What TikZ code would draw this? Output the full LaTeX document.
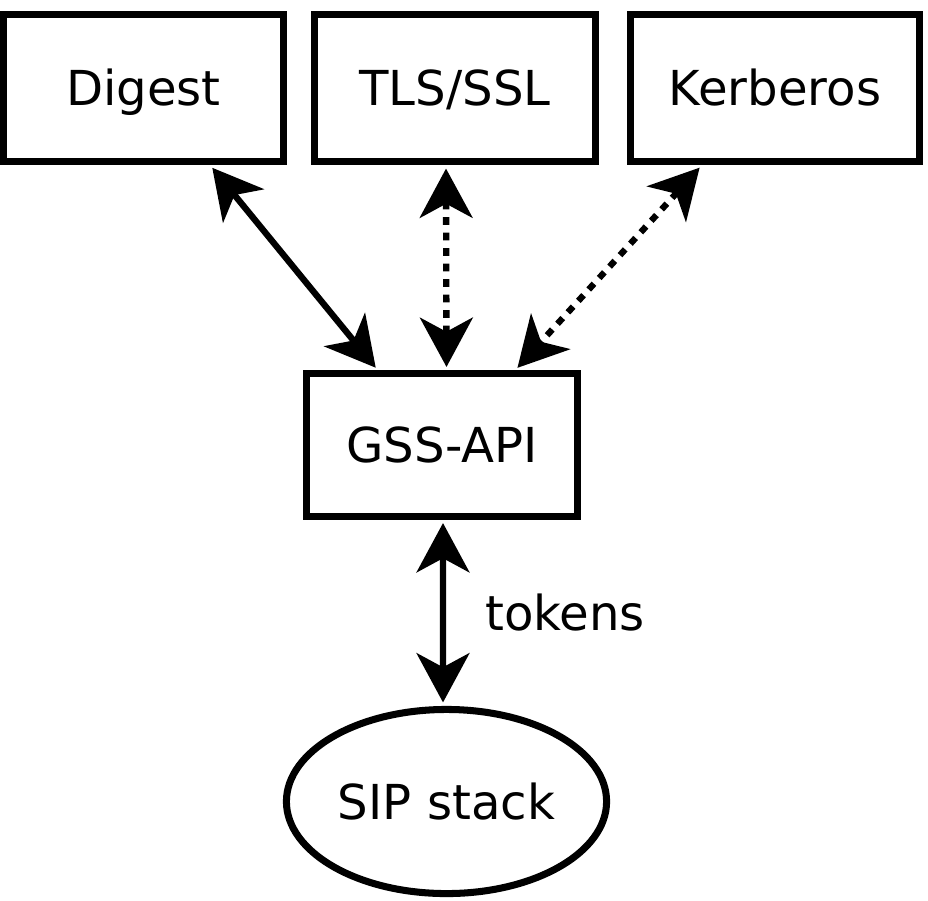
\documentclass[tikz,border=0pt]{standalone}
\usepackage{fontspec}
\setmainfont{DejaVu Sans}
\usetikzlibrary{arrows.meta,shapes.geometric}

\tikzset{
  every node/.style={text height=0.35cm, text depth=0pt},
  box/.style={draw, line width=2pt, minimum height=1.465cm, inner sep=0pt},
  link/.style={line width=1.8pt, {Stealth[length=14pt,width=15pt,inset=4pt]}-{Stealth[length=14pt,width=15pt,inset=4pt]}, shorten <=1pt, shorten >=1pt},
  maybe/.style={link, dash pattern=on 2.2pt off 2.2pt}
}

\begin{document}
\begin{tikzpicture}[x=0.01cm, y=-0.01cm, font=\fontsize{13.7}{16}\selectfont]
\useasboundingbox (0,0) rectangle (928,900);

% security mechanisms
\node[box, minimum width=2.8cm]  (digest)   at (143.5,88.25) {Digest};
\node[box, minimum width=2.8cm]  (tls)      at (455,88.25)   {TLS/SSL};
\node[box, minimum width=2.88cm] (kerberos) at (775,88.25)   {Kerberos};

% api and stack
\node[box, minimum width=2.71cm, minimum height=1.42cm] (gss) at (442,445) {GSS-API};
\node[ellipse, draw, line width=2pt, minimum width=3.2cm, minimum height=1.84cm, inner sep=0pt] (sip) at (446.5,801.5) {SIP stack};

\draw[link]  ([xshift=0.665cm]digest.south)   -- ([xshift=-0.64cm]gss.north);
\draw[maybe] ([xshift=-0.09cm]tls.south)      -- ([xshift=0.045cm]gss.north);
\draw[maybe] ([xshift=-0.73cm]kerberos.south) -- ([xshift=0.73cm]gss.north);
\draw[link]  ([xshift=0.01cm]gss.south) -- ([xshift=-0.035cm]sip.north)
  node[midway, right=0.39cm, inner sep=0pt] {tokens};

\end{tikzpicture}
\end{document}
